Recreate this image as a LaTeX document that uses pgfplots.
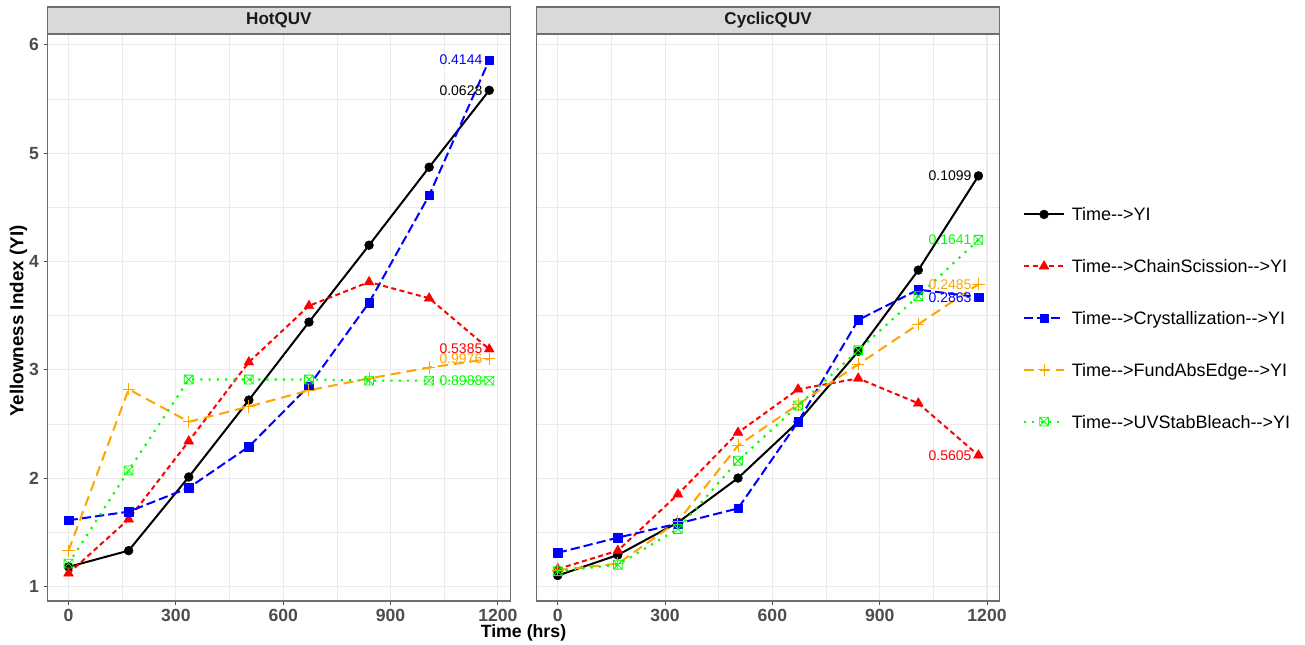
\documentclass[border=0pt]{standalone}
\usepackage{pgfplots}
\pgfplotsset{compat=1.18}
\usepackage{fontspec}
\setmainfont{Liberation Sans}
\usetikzlibrary{plotmarks}

\definecolor{gridc}{HTML}{EBEBEB}
\definecolor{framec}{HTML}{6E6E6E}
\definecolor{tickc}{HTML}{4D4D4D}
\definecolor{stripc}{HTML}{D9D9D9}
\definecolor{myorange}{HTML}{FFA500}
\definecolor{mygreen}{HTML}{00FF00}
\definecolor{myblue}{HTML}{0000FF}
\definecolor{myred}{HTML}{FF0000}

% open square with a diagonal cross
\pgfdeclareplotmark{boxx}{%
  \pgfpathrectangle{\pgfqpoint{-\pgfplotmarksize}{-\pgfplotmarksize}}{\pgfqpoint{2\pgfplotmarksize}{2\pgfplotmarksize}}%
  \pgfpathmoveto{\pgfqpoint{-\pgfplotmarksize}{-\pgfplotmarksize}}%
  \pgfpathlineto{\pgfqpoint{\pgfplotmarksize}{\pgfplotmarksize}}%
  \pgfpathmoveto{\pgfqpoint{-\pgfplotmarksize}{\pgfplotmarksize}}%
  \pgfpathlineto{\pgfqpoint{\pgfplotmarksize}{-\pgfplotmarksize}}%
  \pgfusepathqstroke}

\newcommand\tickfont{\fontsize{13.2}{13.2}\selectfont\bfseries}
\newcommand\titlefont{\fontsize{13.3}{13.3}\selectfont\bfseries}
\newcommand\ytitlefont{\fontsize{14.1}{14.1}\selectfont\bfseries}
\newcommand\legfont{\fontsize{13.5}{16.2}\selectfont}
\newcommand\labfont{\fontsize{10.5}{10.5}\selectfont}
\newcommand\stripfont{\fontsize{12.8}{12.8}\selectfont\bfseries}

\tikzset{vlab/.style={anchor=east, inner sep=0pt, xshift=-5pt, font=\labfont}}

\pgfplotsset{
  panel/.style={
    scale only axis, width=347.1pt, height=425.25pt,
    xmin=-58.8, xmax=1234.8, ymin=0.865, ymax=6.10,
    xtick={0,300,...,1200}, ytick={1,2,3,4,5,6},
    minor xtick={150,450,750,1050}, minor ytick={1.5,2.5,3.5,4.5,5.5},
    grid=both,
    major grid style={gridc, line width=0.8pt},
    minor grid style={gridc, line width=0.4pt},
    axis line style={framec, line width=0.8pt},
    tick align=outside, major tick length=3pt, minor tick length=0pt,
    tick style={tickc, line width=0.75pt},
    xtick pos=left, ytick pos=left,
    tick label style={font=\tickfont, text=tickc},
    /pgf/number format/assume math mode=true,
    /pgf/number format/1000 sep={},
    clip=false,
    every axis plot/.append style={line width=1.5pt, line join=round},
  },
  sYI/.style={black, solid, mark=*, mark size=3.3pt, mark options={solid, line width=0.4pt}},
  sCS/.style={myred, dash pattern=on 3.75pt off 2.6pt, mark=triangle*, mark size=4.3pt, mark options={solid, line width=0.3pt}},
  sCR/.style={myblue, dash pattern=on 7pt off 3pt, mark=square*, mark size=3.2pt, mark options={solid, line width=0.3pt}},
  sFA/.style={myorange, dash pattern=on 7.5pt off 4.5pt, mark=+, mark size=4.6pt, mark options={solid, line width=0.7pt}},
  sUV/.style={mygreen, line width=1.6pt, line cap=butt, dash pattern=on 1.6pt off 4.6pt, mark=boxx, mark size=3.3pt, mark options={solid, line width=0.6pt}},
}

\begin{document}
\begin{tikzpicture}
\useasboundingbox (0pt,0pt) rectangle (978.75pt,483.75pt);

% ---------------- HotQUV ----------------
\begin{axis}[panel, at={(35.625pt,33pt)}, anchor=south west]
\addplot[sYI] coordinates {(0,1.18) (168,1.33) (336,2.01) (504,2.72) (672,3.44) (840,4.15) (1008,4.87) (1176,5.58)};
\addplot[sCS] coordinates {(0,1.12) (168,1.62) (336,2.34) (504,3.07) (672,3.59) (840,3.81) (1008,3.66) (1176,3.19)};
\addplot[sCR] coordinates {(0,1.61) (168,1.69) (336,1.91) (504,2.29) (672,2.85) (840,3.62) (1008,4.61) (1176,5.86)};
\addplot[sFA] coordinates {(0,1.33) (168,2.82) (336,2.52) (504,2.66) (672,2.81) (840,2.92) (1008,3.02) (1176,3.10)};
\addplot[sUV] coordinates {(0,1.21) (168,2.07) (336,2.91) (504,2.91) (672,2.91) (840,2.90) (1008,2.90) (1176,2.90)};
\node[vlab, text=black]    at (axis cs:1176,5.58) {0.0628};
\node[vlab, text=myred]    at (axis cs:1176,3.19) {0.5385};
\node[vlab, text=myblue]   at (axis cs:1176,5.86) {0.4144};
\node[vlab, text=myorange] at (axis cs:1176,3.10) {0.9976};
\node[vlab, text=mygreen]  at (axis cs:1176,2.90) {0.8988};
\end{axis}

% ---------------- CyclicQUV ----------------
\begin{axis}[panel, at={(402.5pt,33pt)}, anchor=south west,
  yticklabels={}, ytick style={draw=none},
  legend style={at={(1.0508,0.4991)}, anchor=west, draw=none, fill=none,
    inner sep=0pt, outer sep=0pt, row sep=26pt, column sep=5pt,
    font=\legfont, nodes={inner sep=0pt}},
  legend cell align=left,
  legend image code/.code={\draw[mark repeat=2, mark phase=2] plot coordinates {(0pt,0pt) (15pt,0pt) (30pt,0pt)};},
]
\addplot[sYI] coordinates {(0,1.10) (168,1.29) (336,1.59) (504,2.00) (672,2.52) (840,3.17) (1008,3.92) (1176,4.79)};
\addlegendentry{\strut Time-{}->YI}
\addplot[sCS] coordinates {(0,1.16) (168,1.33) (336,1.85) (504,2.42) (672,2.82) (840,2.92) (1008,2.69) (1176,2.21)};
\addlegendentry{\strut Time-{}->ChainScission-{}->YI}
\addplot[sCR] coordinates {(0,1.31) (168,1.45) (336,1.58) (504,1.72) (672,2.52) (840,3.46) (1008,3.74) (1176,3.67)};
\addlegendentry{\strut Time-{}->Crystallization-{}->YI}
\addplot[sFA] coordinates {(0,1.15) (168,1.21) (336,1.60) (504,2.30) (672,2.68) (840,3.05) (1008,3.42) (1176,3.79)};
\addlegendentry{\strut Time-{}->FundAbsEdge-{}->YI}
\addplot[sUV] coordinates {(0,1.14) (168,1.20) (336,1.53) (504,2.16) (672,2.67) (840,3.18) (1008,3.68) (1176,4.20)};
\addlegendentry{\strut Time-{}->UVStabBleach-{}->YI}
\node[vlab, text=black]    at (axis cs:1176,4.79) {0.1099};
\node[vlab, text=myred]    at (axis cs:1176,2.21) {0.5605};
\node[vlab, text=myblue]   at (axis cs:1176,3.67) {0.2863};
\node[vlab, text=myorange] at (axis cs:1176,3.79) {0.2485};
\node[vlab, text=mygreen]  at (axis cs:1176,4.20) {0.1641};
\end{axis}

% facet strips
\draw[framec, line width=0.8pt, fill=stripc] (35.625pt,458.25pt) rectangle (382.725pt,478.5pt);
\node[font=\stripfont, text=black!90] at (209.175pt,468.4pt) {HotQUV};
\draw[framec, line width=0.8pt, fill=stripc] (402.5pt,458.25pt) rectangle (749.6pt,478.5pt);
\node[font=\stripfont, text=black!90] at (576.05pt,468.4pt) {CyclicQUV};

% axis titles
\node[font=\ytitlefont, rotate=90] at (13.9pt,243pt) {Yellowness Index (YI)};
\node[font=\titlefont] at (392.6pt,9pt) {Time (hrs)};
\end{tikzpicture}
\end{document}
